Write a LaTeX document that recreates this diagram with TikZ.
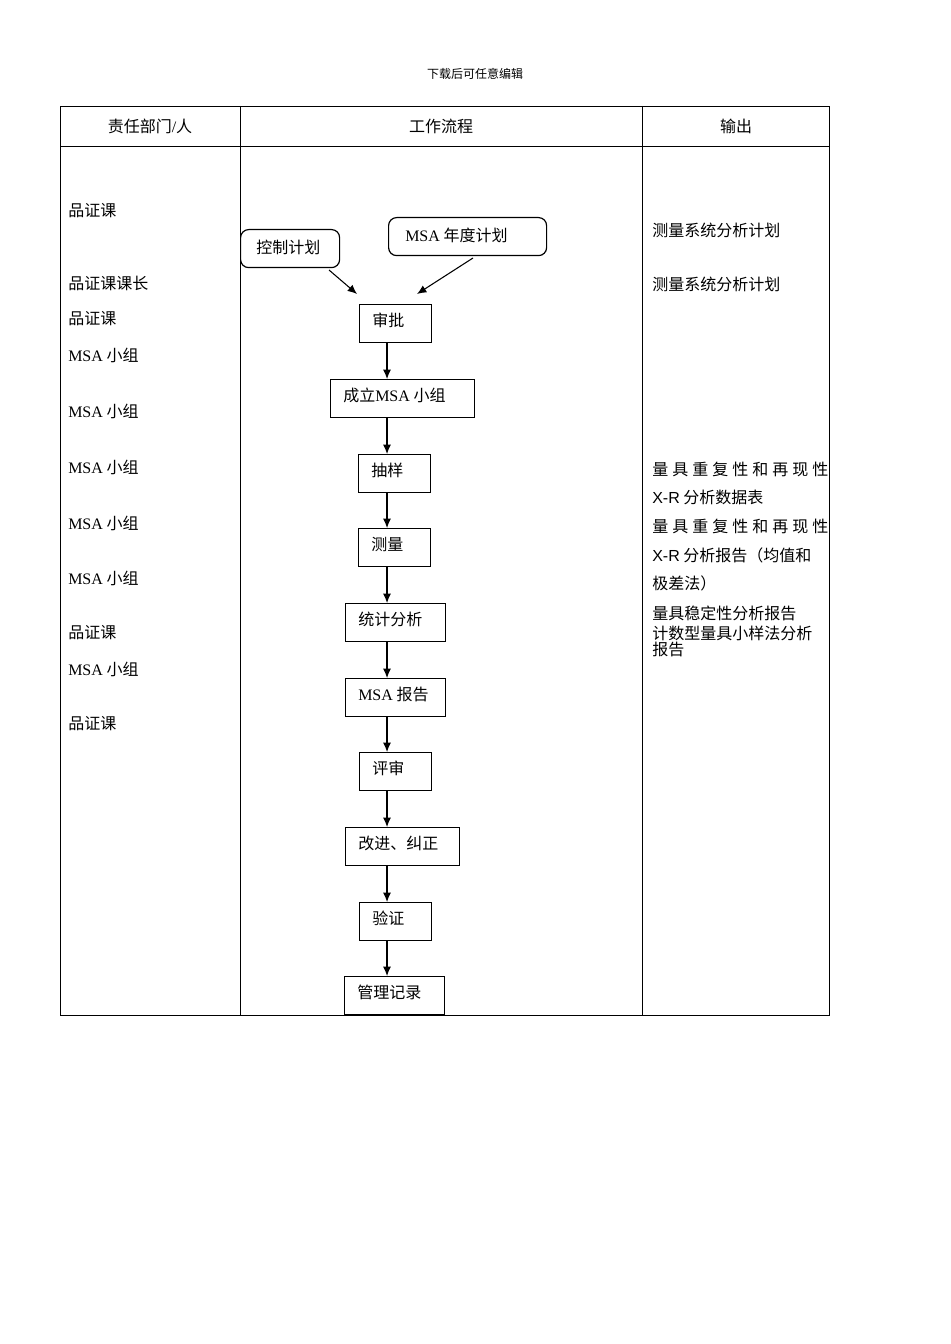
\documentclass[tikz,border=0pt]{standalone}
\usepackage{fontspec}
\usetikzlibrary{arrows.meta}
\setmainfont{Liberation Serif}
\newfontfamily\cjk{Noto Sans CJK SC}
\newfontfamily\lsans{Liberation Sans}
\newfontfamily\lser{Liberation Serif}
\newcommand{\R}[1]{{\lser #1}}
\begin{document}
\begin{tikzpicture}[x=0.75pt,y=-0.75pt,
  every node/.style={font=\cjk\fontsize{12}{13}\selectfont, inner sep=0pt},
  box/.style={draw, line width=0.9pt, minimum width=#1*0.75pt, minimum height=28.5pt, anchor=north west},
  rbox/.style={box=#1, rounded corners=6pt},
  txt/.style={anchor=west},
  arr/.style={-{Latex[length=7pt,width=6pt]}, line width=0.8pt}]
\useasboundingbox (0,0) rectangle (950,1344);
\node at (475,74) {\fontsize{9}{10}\selectfont 下载后可任意编辑};
\draw[line width=0.6pt] (60,106) rectangle (829,1015);
\draw[line width=0.6pt] (240,106) -- (240,1015) (642,106) -- (642,1015) (60,146) -- (829,146);
\node at (150,126) {责任部门\R{/}人};
\node at (441,126) {工作流程};
\node at (736,126) {输出};
% left
\foreach \y/\t in {211/品证课,283/品证课课长,319/品证课,355/\R{MSA} 小组,411/\R{MSA} 小组,467/\R{MSA} 小组,523/\R{MSA} 小组,578/\R{MSA} 小组,633/品证课,669/\R{MSA} 小组,724/品证课}
  \node[txt] at (68,\y) {\t};
% right
\node[txt] at (652,230) {测量系统分析计划};
\node[txt] at (652,284) {测量系统分析计划};
\node[txt] at (652,469) {量\kern3pt 具\kern3pt 重\kern3pt 复\kern3pt 性\kern3pt 和\kern3pt 再\kern3pt 现\kern3pt 性};
\node[txt] at (652,497) {{\lsans X-R} 分析数据表};
\node[txt] at (652,526) {量\kern3pt 具\kern3pt 重\kern3pt 复\kern3pt 性\kern3pt 和\kern3pt 再\kern3pt 现\kern3pt 性};
\node[txt] at (652,555) {{\lsans X-R} 分析报告（均值和};
\node[txt] at (652,583) {极差法）};
\node[txt] at (652,613) {量具稳定性分析报告};
\node[txt] at (652,633) {计数型量具小样法分析};
\node[txt] at (652,649) {报告};
% flow
\node[rbox=99] (kz) at (240,229) {};
\node[txt] at (256,247) {控制计划};
\node[rbox=158] (msa) at (388,217) {};
\node[txt] at (405,235) {\R{MSA} 年度计划};
\coordinate (a1) at (329,270); \coordinate (a2) at (357,294);
\coordinate (b1) at (473,258); \coordinate (b2) at (417,294);
\draw[arr] (a1) -- (a2);
\draw[arr] (b1) -- (b2);
\foreach \n/\x/\y/\w/\t in {n1/359/304/72/审批, n2/330/379/144/成立\R{MSA} 小组, n3/358/454/72/抽样, n4/358/528/72/测量, n5/345/603/100/统计分析, n6/345/678/100/\R{MSA} 报告, n7/359/752/72/评审, n8/345/827/114/改进、纠正, n9/359/902/72/验证, n10/344/976/100/管理记录}{
  \node[box=\w] (\n) at (\x,\y) {};
  \node[txt] at (\x+13,\y+16) {\t};
}
\foreach \a/\b in {n1/n2,n2/n3,n3/n4,n4/n5,n5/n6,n6/n7,n7/n8,n8/n9,n9/n10}
  \draw[arr] (\a.south -| 387,0) -- (\b.north -| 387,0);
\end{tikzpicture}
\end{document}
